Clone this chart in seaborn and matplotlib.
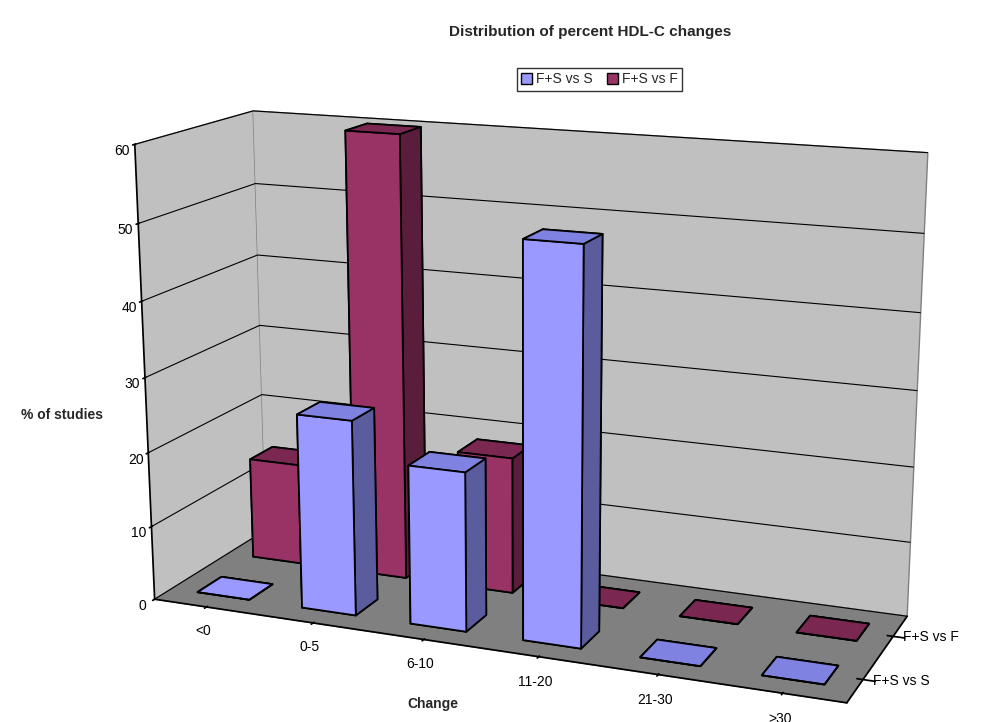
import numpy as np
import matplotlib
matplotlib.use("Agg")
import matplotlib.pyplot as plt
from matplotlib.patches import Patch
import seaborn as sns

# Percent of studies in each HDL-C change bin
categories = ["<0", "0-5", "6-10", "11-20", "21-30", ">30"]
series_names = ["F+S vs S", "F+S vs F"]
fs_vs_s = [0, 26, 21, 51, 0, 0]
fs_vs_f = [14, 60, 18.5, 0, 0, 0]
z_ticks = [0, 10, 20, 30, 40, 50, 60]

# face colours per series: front, right side, top
palette = {
    "F+S vs S": {"front": "#9999ff", "side": "#5a5c9e", "top": "#7f82e0"},
    "F+S vs F": {"front": "#993366", "side": "#5a1e3c", "top": "#7a2852"},
}

sns.set_theme(style="white")
plt.rcParams["font.family"] = ["Liberation Sans", "DejaVu Sans"]

fig = plt.figure(figsize=(9.83, 7.22), dpi=100)
# a large (square) 3D axes so nothing gets clipped; the box is scaled by zoom
ax = fig.add_axes([0.033, -0.25, 0.98, 1.4], projection="3d")
ax.set_proj_type("persp", focal_length=0.45)
ax.view_init(elev=15, azim=-68)
ax.set_box_aspect((6.65, 2.2, 4.3), zoom=0.915)

bar_w, bar_d = 0.5, 0.42
xs, ys, dzs, colors = [], [], [], []
for row, (name, vals) in enumerate(zip(series_names, [fs_vs_s, fs_vs_f])):
    c = palette[name]
    for i, v in enumerate(vals):
        xs.append(i + (1 - bar_w) / 2)
        ys.append(row + (1 - bar_d) / 2)
        dzs.append(v)
        # face order: bottom, top, front(-y), back(+y), left(-x), right(+x)
        colors += [c["front"], c["top"], c["front"], c["front"], c["side"], c["side"]]

ax.bar3d(xs, ys, np.zeros(len(xs)), bar_w, bar_d, dzs, color=colors,
         shade=False, edgecolor="black", linewidth=1.3)

ax.set_xlim(0, 6)
ax.set_ylim(0, 2)
ax.set_zlim(0, 60)
ax.set_xticks(np.arange(6) + 0.5)
ax.set_xticklabels(categories)
ax.set_yticks([0.5, 1.5])
ax.set_yticklabels(series_names)
ax.set_zticks(z_ticks)
ax.tick_params(labelsize=10, colors="black")
ax.tick_params(axis="x", pad=4)
ax.tick_params(axis="y", pad=-3)
ax.tick_params(axis="z", pad=-2)
ax.zaxis.set_ticks_position("lower")
for t in ax.get_yticklabels():
    t.set_horizontalalignment("left")
    t.set_verticalalignment("bottom")

# walls and floor
ax.xaxis.set_pane_color("#c0c0c0")
ax.yaxis.set_pane_color("#c0c0c0")
ax.zaxis.set_pane_color("#808080")
for a in (ax.xaxis, ax.yaxis, ax.zaxis):
    a.pane.set_edgecolor("#808080")
    a.line.set_color("black")

# only horizontal value gridlines on the walls
ax.grid(True)
ax.xaxis._axinfo["grid"]["linewidth"] = 0
ax.yaxis._axinfo["grid"]["linewidth"] = 0
ax.zaxis._axinfo["grid"]["color"] = "black"
ax.zaxis._axinfo["grid"]["linewidth"] = 0.8

fig.text(0.60, 0.955, "Distribution of percent HDL-C changes", ha="center",
         va="center", fontsize=11, fontweight="bold")
fig.text(0.063, 0.425, "% of studies", ha="center", va="center",
         fontsize=10, fontweight="bold")
fig.text(0.44, 0.025, "Change", ha="center", va="center",
         fontsize=10, fontweight="bold")

handles = [Patch(facecolor=palette[n]["front"], edgecolor="black", label=n)
           for n in series_names]
leg = fig.legend(handles=handles, loc="center", bbox_to_anchor=(0.61, 0.89),
                 ncol=2, frameon=True, fancybox=False, fontsize=10,
                 handlelength=0.8, handleheight=0.8, handletextpad=0.3,
                 columnspacing=1.0, borderpad=0.3)
leg.get_frame().set_edgecolor("black")
leg.get_frame().set_linewidth(1.0)

fig.savefig("out.png", dpi=100)
